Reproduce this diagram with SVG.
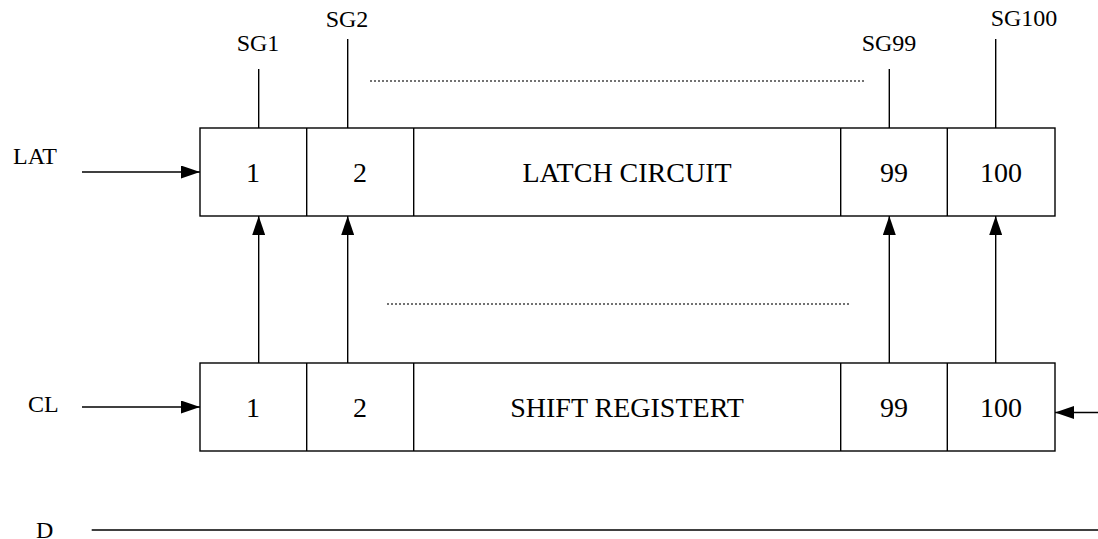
<svg xmlns="http://www.w3.org/2000/svg" width="1098" height="539" viewBox="0 0 1098 539">
<style>
.box{fill:#fff;stroke:#000;stroke-width:1.4}
.div{stroke:#000;stroke-width:1.4}
.ln{stroke:#000;stroke-width:1.4;fill:none}
.dot{stroke:#444;stroke-width:1.4;stroke-dasharray:2 2;fill:none}
.lbl{font-family:"Liberation Serif","Times New Roman",serif;font-size:24px;fill:#000}
.cell{font-family:"Liberation Serif","Times New Roman",serif;font-size:28px;fill:#000;text-anchor:middle}
</style>
<defs>
<marker id="ah" markerUnits="userSpaceOnUse" markerWidth="19" markerHeight="13" refX="19" refY="6.5" orient="auto">
<path d="M0,0 L19,6.5 L0,13 z" fill="#000"/>
</marker>
</defs>
<g id="latch">
<rect class="box" x="200" y="128" width="855" height="88"/>
<line class="div" x1="306.7" y1="128" x2="306.7" y2="216"/>
<line class="div" x1="413.7" y1="128" x2="413.7" y2="216"/>
<line class="div" x1="840.7" y1="128" x2="840.7" y2="216"/>
<line class="div" x1="947.3" y1="128" x2="947.3" y2="216"/>
<text class="cell" x="253" y="181.5">1</text>
<text class="cell" x="360" y="181.5">2</text>
<text class="cell" x="627" y="181.5">LATCH CIRCUIT</text>
<text class="cell" x="894" y="181.5">99</text>
<text class="cell" x="1001" y="181.5">100</text>
</g>
<g id="shift">
<rect class="box" x="200" y="363" width="855" height="88"/>
<line class="div" x1="306.7" y1="363" x2="306.7" y2="451"/>
<line class="div" x1="413.7" y1="363" x2="413.7" y2="451"/>
<line class="div" x1="840.7" y1="363" x2="840.7" y2="451"/>
<line class="div" x1="947.3" y1="363" x2="947.3" y2="451"/>
<text class="cell" x="253" y="416.5">1</text>
<text class="cell" x="360" y="416.5">2</text>
<text class="cell" x="627" y="416.5">SHIFT REGISTERT</text>
<text class="cell" x="894" y="416.5">99</text>
<text class="cell" x="1001" y="416.5">100</text>
</g>
<g id="labels">
<text class="lbl" x="258" y="51" text-anchor="middle">SG1</text>
<text class="lbl" x="347" y="27" text-anchor="middle">SG2</text>
<text class="lbl" x="889" y="51" text-anchor="middle">SG99</text>
<text class="lbl" x="1024" y="26" text-anchor="middle">SG100</text>
<text class="lbl" x="13" y="164">LAT</text>
<text class="lbl" x="28" y="412">CL</text>
<text class="lbl" x="36" y="538">D</text>
</g>
<g id="connectors">
<line class="ln" x1="258.7" y1="69" x2="258.7" y2="128"/>
<line class="ln" x1="347.7" y1="39" x2="347.7" y2="128"/>
<line class="ln" x1="889.3" y1="69" x2="889.3" y2="128"/>
<line class="ln" x1="995.7" y1="39" x2="995.7" y2="128"/>
<line class="ln" x1="82" y1="172" x2="200" y2="172" marker-end="url(#ah)"/>
<line class="ln" x1="82" y1="407" x2="200" y2="407" marker-end="url(#ah)"/>
<line class="ln" x1="1098" y1="412.5" x2="1055" y2="412.5" marker-end="url(#ah)"/>
<line class="ln" x1="258.7" y1="363" x2="258.7" y2="216" marker-end="url(#ah)"/>
<line class="ln" x1="347.7" y1="363" x2="347.7" y2="216" marker-end="url(#ah)"/>
<line class="ln" x1="889.3" y1="363" x2="889.3" y2="216" marker-end="url(#ah)"/>
<line class="ln" x1="995.7" y1="363" x2="995.7" y2="216" marker-end="url(#ah)"/>
<line class="ln" x1="91.7" y1="530" x2="1098" y2="530"/>
<line class="dot" x1="370" y1="81" x2="866" y2="81"/>
<line class="dot" x1="387" y1="304" x2="850" y2="304"/>
</g>
</svg>
